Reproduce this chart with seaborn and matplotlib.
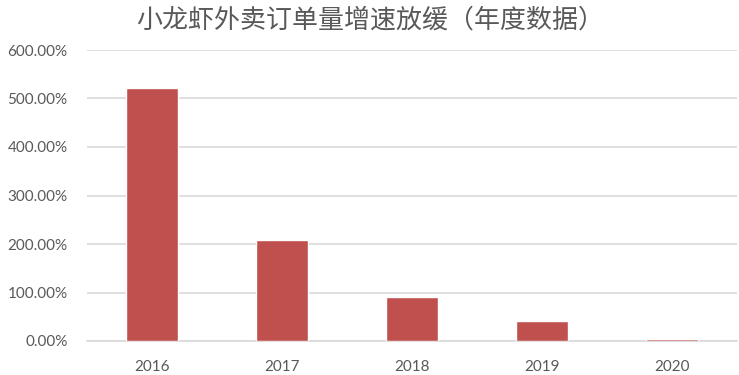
import matplotlib
matplotlib.use("Agg")
import matplotlib.pyplot as plt
import seaborn as sns
import pandas as pd
from matplotlib.ticker import FuncFormatter, MultipleLocator

years = ["2016", "2017", "2018", "2019", "2020"]
growth = [521.0, 208.0, 90.0, 41.0, 4.0]
title = "小龙虾外卖订单量增速放缓（年度数据）"

sns.set_theme(style="white")
plt.rcParams['font.family'] = ['Lato', 'Noto Sans CJK SC', 'DejaVu Sans']

df = pd.DataFrame({"year": years, "growth": growth})

fig = plt.figure(figsize=(7.39, 3.75), dpi=100)
ax = fig.add_axes([87/739, 34/375, 650/739, 291/375])
sns.barplot(data=df, x="year", y="growth", color="#C0504D", saturation=1,
            width=0.4, ax=ax, zorder=3)
ax.set_xlim(-0.5, 4.5)
ax.set_ylim(0, 600)
ax.yaxis.set_major_locator(MultipleLocator(100))
ax.yaxis.set_major_formatter(FuncFormatter(lambda v, p: f"{v:.2f}%"))
ax.grid(axis="y", color="#D9D9D9", linewidth=1.2, zorder=0)
for s in ["top", "right", "left"]:
    ax.spines[s].set_visible(False)
ax.spines["bottom"].set_color("#D9D9D9")
ax.spines["bottom"].set_linewidth(1.2)
ax.set_xlabel("")
ax.set_ylabel("")
ax.tick_params(axis="both", length=0, labelsize=11, labelcolor="#595959")
ax.tick_params(axis="x", pad=14)
ax.tick_params(axis="y", pad=14)
fig.text(370/739, 1 - 20/375, title, ha="center", va="center", fontsize=18.7,
         color="#595959", family=['Noto Sans CJK SC', 'DejaVu Sans'])
fig.savefig("out.png", dpi=100)
